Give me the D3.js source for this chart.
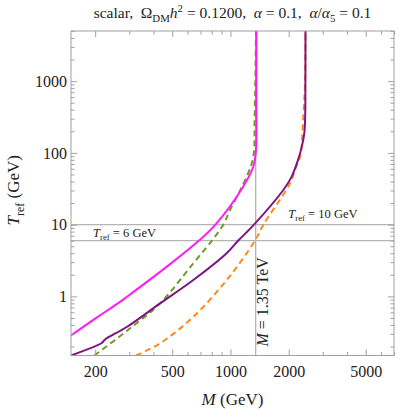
<!DOCTYPE html>
<html>
<head>
<meta charset="utf-8">
<script src="https://cdn.jsdelivr.net/npm/d3@7"></script>
<style>
  body { margin: 0; background: #fff; }
  text { white-space: pre; }
</style>
</head>
<body>
<div id="chart"></div>
<script>
// curves: mass M (GeV) and T_ref (GeV)
var magentaM = [150, 200, 269, 291, 497, 688, 837, 1165, 1313, 1355, 1360, 1362];
var magentaT = [0.285, 0.49, 0.84, 0.98, 2.93, 6.0, 10.0, 34, 64.5, 110, 548, 5000];

var greenM = [198, 291, 433, 643, 803, 918, 995, 1214, 1313, 1333, 1345, 1355];
var greenT = [0.15, 0.33, 0.80, 2.9, 6.0, 10.0, 16.0, 46.7, 89, 289, 1000, 5000];

var purpleM = [150, 216, 225, 291, 433, 643, 956, 1098, 1323, 1876, 2056, 2209, 2330, 2409, 2434, 2439, 2442];
var purpleT = [0.15, 0.224, 0.251, 0.374, 0.80, 1.69, 3.99, 6.0, 10.0, 30.4, 44.8, 72.6, 117.5, 190, 339, 757, 5000];

var orangeM = [325, 433, 643, 956, 1340, 1480, 2032, 2200, 2290, 2380, 2428, 2440];
var orangeT = [0.15, 0.222, 0.52, 1.69, 6.0, 10.0, 37.8, 68, 89, 321, 1000, 5000];

var refT = [6, 10];
var refM = 1350;

var xMajor = [200, 500, 1000, 2000, 5000];
var xMinor = [300, 400, 600, 700, 800, 900, 3000, 4000, 6000, 7000];
var yMajor = [1, 10, 100, 1000];
var yMinor = [0.2, 0.3, 0.4, 0.5, 0.6, 0.7, 0.8, 0.9, 2, 3, 4, 5, 6, 7, 8, 9,
  20, 30, 40, 50, 60, 70, 80, 90, 200, 300, 400, 500, 600, 700, 800, 900,
  2000, 3000, 4000, 5000];

var serif = "'Liberation Serif', 'DejaVu Serif', serif";

var W = 398, H = 413;
var margin = { top: 31, right: 4, bottom: 57.5, left: 71 };
var width = W - margin.left - margin.right;
var height = H - margin.top - margin.bottom;

var svgRoot = d3.select("#chart").append("svg")
  .attr("width", W)
  .attr("height", H);

var svg = svgRoot.append("g")
  .attr("transform", "translate(" + margin.left + "," + margin.top + ")");

var x = d3.scaleLog().domain([150, 7000]).range([0, width]);
var y = d3.scaleLog().domain([0.15, 5000]).range([height, 0]);

// writes pieces of text, with italics and sub/superscripts, into a text node
function richText(sel, parts, size) {
  var shift = 0;
  parts.forEach(function (p) {
    var target = p.s === "sub" ? size * 0.28 : p.s === "sup" ? -size * 0.4 : 0;
    var ts = sel.append("tspan").text(p.t);
    if (target !== shift) ts.attr("dy", target - shift);
    shift = target;
    if (p.s) ts.attr("font-size", size * 0.7);
    if (p.i) ts.attr("font-style", "italic");
  });
}

svg.append("clipPath").attr("id", "clip")
  .append("rect").attr("width", width).attr("height", height);

// reference lines
var refs = svg.append("g").attr("clip-path", "url(#clip)");
refT.forEach(function (t) {
  refs.append("line")
    .attr("x1", 0).attr("x2", width)
    .attr("y1", y(t)).attr("y2", y(t))
    .attr("stroke", "#b4b4b4").attr("stroke-width", 1.3);
});
refs.append("line")
  .attr("x1", x(refM)).attr("x2", x(refM))
  .attr("y1", 0).attr("y2", height)
  .attr("stroke", "#b4b4b4").attr("stroke-width", 1.3);

// curves
var line = d3.line()
  .x(function (d) { return x(d[0]); })
  .y(function (d) { return y(d[1]); })
  .curve(d3.curveCatmullRom.alpha(0.5));

function zip(ms, ts) {
  return ms.map(function (m, i) { return [m, ts[i]]; });
}

var curves = [
  { data: zip(orangeM, orangeT), color: "#ff8a1c", dash: "6,4" },
  { data: zip(greenM, greenT), color: "#6e9a2c", dash: "6,4" },
  { data: zip(purpleM, purpleT), color: "#7d1580", dash: null },
  { data: zip(magentaM, magentaT), color: "#ff1cf0", dash: null }
];

var plot = svg.append("g").attr("clip-path", "url(#clip)");
curves.forEach(function (c) {
  plot.append("path")
    .datum(c.data)
    .attr("fill", "none")
    .attr("stroke", c.color)
    .attr("stroke-width", 2)
    .attr("stroke-dasharray", c.dash)
    .attr("d", line);
});

// frame and ticks
svg.append("rect")
  .attr("width", width).attr("height", height)
  .attr("fill", "none").attr("stroke", "#a0a0a0").attr("stroke-width", 1);

function styleAxis(g) {
  g.select(".domain").remove();
  g.selectAll("line").attr("stroke", "#a0a0a0");
  g.attr("font-family", serif).attr("font-size", 16);
  g.selectAll("text").attr("fill", "#222");
}

svg.append("g")
  .attr("transform", "translate(0," + height + ")")
  .call(d3.axisBottom(x).tickValues(xMajor).tickSize(-6).tickPadding(10).tickFormat(d3.format("d")))
  .call(styleAxis);
svg.append("g")
  .attr("transform", "translate(0," + height + ")")
  .call(d3.axisBottom(x).tickValues(xMinor).tickSize(-3.5).tickFormat(""))
  .call(styleAxis);
svg.append("g")
  .call(d3.axisTop(x).tickValues(xMajor).tickSize(-6).tickFormat(""))
  .call(styleAxis);
svg.append("g")
  .call(d3.axisTop(x).tickValues(xMinor).tickSize(-3.5).tickFormat(""))
  .call(styleAxis);

svg.append("g")
  .call(d3.axisLeft(y).tickValues(yMajor).tickSize(-6).tickPadding(4).tickFormat(d3.format("d")))
  .call(styleAxis);
svg.append("g")
  .call(d3.axisLeft(y).tickValues(yMinor).tickSize(-3.5).tickFormat(""))
  .call(styleAxis);
svg.append("g")
  .attr("transform", "translate(" + width + ",0)")
  .call(d3.axisRight(y).tickValues(yMajor).tickSize(-6).tickFormat(""))
  .call(styleAxis);
svg.append("g")
  .attr("transform", "translate(" + width + ",0)")
  .call(d3.axisRight(y).tickValues(yMinor).tickSize(-3.5).tickFormat(""))
  .call(styleAxis);

// annotations
var t6 = svg.append("text")
  .attr("x", x(195)).attr("y", y(6) - 4)
  .attr("font-family", serif).attr("font-size", 12.5).attr("fill", "#222");
richText(t6, [{ t: "T", i: true }, { t: "ref", s: "sub" }, { t: " = 6 GeV" }], 12.5);

var t10 = svg.append("text")
  .attr("x", x(1990)).attr("y", y(10) - 7)
  .attr("font-family", serif).attr("font-size", 12.5).attr("fill", "#222");
richText(t10, [{ t: "T", i: true }, { t: "ref", s: "sub" }, { t: " = 10 GeV" }], 12.5);

var tm = svg.append("text")
  .attr("transform", "translate(" + (x(refM) + 12.5) + "," + (height - 9) + ") rotate(-90)")
  .attr("font-family", serif).attr("font-size", 16).attr("fill", "#222");
richText(tm, [{ t: "M", i: true }, { t: " = 1.35 TeV" }], 16);

// title and axis labels
var title = svgRoot.append("text")
  .attr("x", margin.left + width / 2).attr("y", 18)
  .attr("text-anchor", "middle")
  .attr("font-family", serif).attr("font-size", 15.5).attr("fill", "#222");
richText(title, [
  { t: "scalar,  Ω" }, { t: "DM", s: "sub" }, { t: "h", i: true }, { t: "2", s: "sup" },
  { t: " = 0.1200,  " }, { t: "α", i: true }, { t: " = 0.1,  " },
  { t: "α", i: true }, { t: "/" }, { t: "α", i: true }, { t: "5", s: "sub" }, { t: " = 0.1" }
], 15.5);

var xl = svgRoot.append("text")
  .attr("x", margin.left + width / 2).attr("y", 405)
  .attr("text-anchor", "middle")
  .attr("font-family", serif).attr("font-size", 17).attr("fill", "#222");
richText(xl, [{ t: "M", i: true }, { t: " (GeV)" }], 17);

var yl = svgRoot.append("text")
  .attr("transform", "translate(19," + (margin.top + height / 2 - 3) + ") rotate(-90)")
  .attr("text-anchor", "middle")
  .attr("font-family", serif).attr("font-size", 17).attr("fill", "#222");
richText(yl, [{ t: "T", i: true }, { t: "ref", s: "sub" }, { t: " (GeV)" }], 17);
</script>
</body>
</html>
